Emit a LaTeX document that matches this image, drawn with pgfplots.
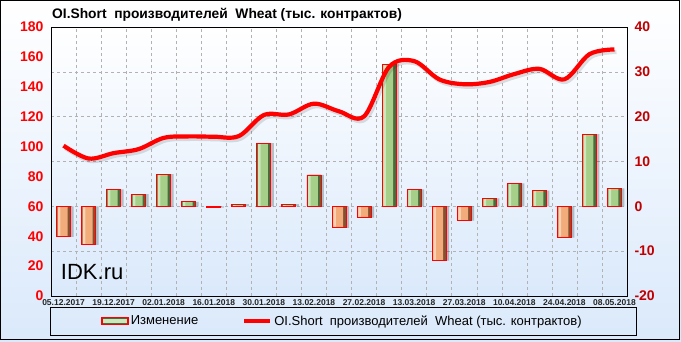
\documentclass[border=0pt]{standalone}
\usepackage{pgfplots}
\pgfplotsset{compat=1.18}
\usepackage{pgfplotstable}
\usepackage{fontspec}
\setmainfont{Liberation Sans}
\definecolor{posfill}{HTML}{A6CF8A}
\definecolor{posdark}{HTML}{4F6A3A}
\definecolor{poslight}{HTML}{CDE6BC}
\definecolor{negfill}{HTML}{F2AB7B}
\definecolor{negdark}{HTML}{87502F}
\definecolor{neglight}{HTML}{F9D1B3}
\definecolor{bgblue}{HTML}{DAE9FB}
\definecolor{tickred}{HTML}{FF0000}
\definecolor{rtick}{HTML}{C00000}

\pgfplotstableread{
x y
0 100.6
1 92.0
2 95.6
3 98.3
4 105.8
5 106.8
6 106.6
7 107.0
8 121.1
9 121.5
10 128.7
11 123.6
12 120.2
13 153.3
14 157.2
15 145.0
16 141.7
17 143.2
18 148.5
19 152.0
20 145.0
21 161.8
22 165.0
}\linedata

\pgfplotstableread{
x y
0 -6.8
1 -8.6
2 3.8
3 2.7
4 7.2
5 1.0
6 -0.3
7 0.5
8 14.1
9 0.5
10 7.0
11 -4.8
12 -2.5
13 31.7
14 3.8
15 -12.1
16 -3.2
17 1.8
18 5.1
19 3.5
20 -7.0
21 16.1
22 4.0
}\alldata

\pgfplotstableread{
x y
2 3.8
3 2.7
4 7.2
5 1.0
7 0.5
8 14.1
9 0.5
10 7.0
13 31.7
14 3.8
17 1.8
18 5.1
19 3.5
21 16.1
22 4.0
}\posdata

\pgfplotstableread{
x y
0 -6.8
1 -8.6
6 -0.3
11 -4.8
12 -2.5
15 -12.1
16 -3.2
20 -7.0
}\negdata

\begin{document}
\begin{tikzpicture}[x=1pt,y=1pt]
\shade[top color=white, middle color=white, bottom color=bgblue] (0,0) rectangle (681,341);
\draw[black, line width=1.2pt] (0.8,1.5) rectangle (679.4,340.4);
\draw[black, line width=1pt] (50,6) rectangle (636,34);
\node[anchor=base west, inner sep=0pt, font=\bfseries\fontsize{13.8}{13.8}\selectfont] at (52,323) {OI.Short\ \ производителей\ \ Wheat (тыс. контрактов)};

\begin{axis}[
  at={(51pt,45pt)}, anchor=south west, scale only axis,
  width=576pt, height=269pt,
  xmin=-0.5, xmax=22.5, ymin=-20, ymax=40,
  xtick={0,2,...,22},
  xticklabels={05.12.2017,19.12.2017,02.01.2018,16.01.2018,30.01.2018,13.02.2018,27.02.2018,13.03.2018,27.03.2018,10.04.2018,24.04.2018,08.05.2018},
  minor xtick={0.5,1.5,...,21.5},
  xminorgrids=true, xmajorgrids=false, ymajorgrids=true,
  ytick={-20,-10,...,40},
  yticklabel pos=right,
  major tick length=0pt, minor tick length=0pt,
  grid style={dashed, black!30},
  minor grid style={dashed, black!30},
  axis line style={black, line width=1pt},
  axis background/.style={shade, top color=white, middle color=white, bottom color=bgblue},
  /pgf/number format/assume math mode=true,
  yticklabel style={font=\bfseries\fontsize{14}{14}\selectfont, text=rtick, xshift=4pt},
  xticklabel style={font=\bfseries\fontsize{8.5}{8.5}\selectfont, text=black!85, yshift=-0.5pt},
  ybar,
]
% shadows
\addplot[ybar, bar width=14pt, bar shift=3pt, fill=black, draw=none, opacity=0.22, forget plot] table[x=x,y=y] {\alldata};
% positive bars
\addplot[ybar, bar width=14pt, bar shift=0pt, fill=posdark, draw=none, forget plot] table[x=x,y=y] {\posdata};
\addplot[ybar, bar width=10pt, bar shift=-1pt, fill=posfill, draw=none, forget plot] table[x=x,y=y] {\posdata};
\addplot[ybar, bar width=2.5pt, bar shift=-4.5pt, fill=poslight, draw=none, forget plot] table[x=x,y=y] {\posdata};
\addplot[ybar, bar width=14pt, bar shift=0pt, fill=none, draw=red, line width=0.9pt, forget plot] table[x=x,y=y] {\posdata};
% negative bars
\addplot[ybar, bar width=14pt, bar shift=0pt, fill=negdark, draw=none, forget plot] table[x=x,y=y] {\negdata};
\addplot[ybar, bar width=10pt, bar shift=-1pt, fill=negfill, draw=none, forget plot] table[x=x,y=y] {\negdata};
\addplot[ybar, bar width=2.5pt, bar shift=-4.5pt, fill=neglight, draw=none, forget plot] table[x=x,y=y] {\negdata};
\addplot[ybar, bar width=14pt, bar shift=0pt, fill=none, draw=red, line width=0.9pt, forget plot] table[x=x,y=y] {\negdata};
\end{axis}

\begin{axis}[
  at={(51pt,45pt)}, anchor=south west, scale only axis,
  width=576pt, height=269pt,
  xmin=-0.5, xmax=22.5, ymin=0, ymax=180,
  ytick={0,20,...,180},
  hide x axis,
  axis y line*=left,
  y axis line style={draw=none},
  major tick length=0pt,
  /pgf/number format/assume math mode=true,
  yticklabel style={font=\bfseries\fontsize{14}{14}\selectfont, text=tickred, xshift=-4pt},
  legend columns=2,
  legend style={at={(rel axis cs:0.506,-0.093)}, anchor=center, draw=none, fill=none,
    font=\fontsize{13}{13}\selectfont,
    /tikz/every even column/.append style={column sep=42pt}},
]
\addlegendimage{legend image code/.code={\draw[draw=red, line width=1.5pt, fill=posdark] (0pt,-3.5pt) rectangle (26pt,3.5pt); \fill[poslight] (1.5pt,-1pt) rectangle (24.5pt,1.5pt);}}
\addlegendentry{Изменение}
\addplot[black, line width=4.2pt, smooth, tension=0.55, opacity=0.12, forget plot, /tikz/transform canvas={shift={(2pt,-2.5pt)}}] table[x=x,y=y] {\linedata};
\addplot[red, line width=4.2pt, smooth, tension=0.55, legend image code/.code={\draw[red, line width=4pt] (0pt,0pt) -- (26pt,0pt);}] table[x=x,y=y] {\linedata};
\addlegendentry{OI.Short\ \ производителей\ \ Wheat (тыс. контрактов)}
\node[anchor=base west, inner sep=0pt, font=\fontsize{22}{22}\selectfont] at (rel axis cs:0.017,0.062) {IDK.ru};
\end{axis}
\end{tikzpicture}
\end{document}
